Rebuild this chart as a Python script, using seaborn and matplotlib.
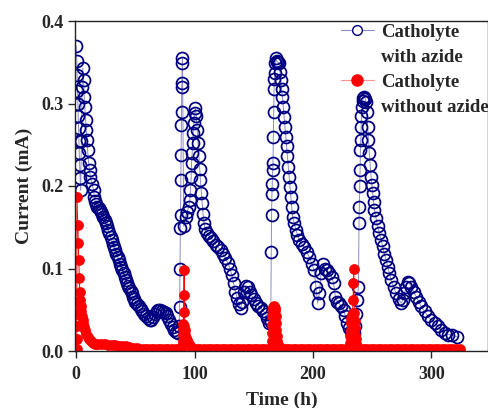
import numpy as np
import pandas as pd
import matplotlib
matplotlib.use("Agg")
import matplotlib.pyplot as plt
from matplotlib.lines import Line2D
import seaborn as sns

# ---- catholyte with azide (blue, open circles) ----
with_t1 = [0.0, 0.5, 0.8, 1.1, 1.4, 1.7, 2.0, 2.3, 2.6, 2.9, 3.3, 3.8, 4.4, 5.0, 5.6, 6.2, 6.8, 7.3, 8.0, 8.5,
           9.0, 9.6, 10.5, 11.3, 11.9, 13.3, 14.7, 15.3, 16, 17,
           18, 19, 20, 21, 22, 23, 24, 25, 26, 27, 28, 29, 30, 31, 32, 33, 34, 35, 36, 37, 38, 39, 40, 41,
           42, 43, 44, 45, 46, 47, 48, 49, 50,
           51.5, 53.0, 54.5, 56.0, 57.5, 59.0, 60.5, 62.0, 63.5, 65.0, 66.5, 68.0, 69.5, 71.0, 72.5, 74.0,
           75.5, 77.0, 78.5, 80.0, 81.5, 83.0, 84.5, 86.0]
with_v1 = [0.370, 0.352, 0.335, 0.315, 0.300, 0.285, 0.270, 0.255, 0.240, 0.225, 0.210, 0.195, 0.255, 0.320,
           0.343, 0.328, 0.308, 0.296, 0.280, 0.268, 0.256, 0.244, 0.228, 0.219, 0.211, 0.203, 0.195, 0.187,
           0.182, 0.178,
           0.175, 0.173, 0.171, 0.169, 0.166, 0.163, 0.159, 0.155, 0.151, 0.147, 0.143, 0.138, 0.134, 0.130,
           0.126, 0.122, 0.118, 0.114, 0.110, 0.106, 0.102, 0.098, 0.094, 0.090, 0.086, 0.082, 0.079, 0.076,
           0.073, 0.070, 0.066, 0.063, 0.060,
           0.057, 0.054, 0.051, 0.048, 0.045, 0.042, 0.040, 0.038, 0.038, 0.041, 0.045, 0.048, 0.050, 0.050,
           0.049, 0.047, 0.046, 0.042, 0.037, 0.033, 0.029, 0.026, 0.023, 0.022]

with_t2 = [87.0, 87.4, 87.7, 88.0, 88.2, 88.4, 88.6, 88.8, 89.0, 89.2, 89.4, 89.6, 89.8, 90.9, 92.4, 93.8,
           95.2, 96.0, 96.6, 97.2, 97.5, 98.0, 98.4, 98.9, 99.4, 100.0, 100.8,
           101.5, 102.3, 103.0, 103.7, 104.4, 105.0, 105.8, 106.5, 107.2, 108.0, 109.0, 110.5, 112.0, 114.0,
           116.0, 118.0, 120.0, 122.0, 124.0, 126.0, 128.0, 130.0, 131.5, 133.0, 134.5, 136.0, 137.5, 139.0,
           140.5, 142.0, 143.5, 145.0, 146.5, 148.0, 150.0, 152.0, 154.0, 156.0, 158.0, 160.0, 161.5, 163.0]
with_v2 = [0.030, 0.053, 0.100, 0.149, 0.165, 0.207, 0.238, 0.274, 0.290, 0.320, 0.325, 0.349, 0.355,
           0.151, 0.163, 0.169, 0.175, 0.183, 0.195, 0.211, 0.228, 0.240, 0.252, 0.264, 0.276, 0.288, 0.294,
           0.285, 0.268, 0.252, 0.236, 0.221, 0.207, 0.192, 0.179, 0.166, 0.155, 0.148, 0.143, 0.140, 0.137,
           0.133, 0.129, 0.126, 0.122, 0.118, 0.113, 0.107, 0.100, 0.092, 0.082, 0.072, 0.064, 0.057, 0.052,
           0.060, 0.072, 0.079, 0.077, 0.072, 0.068, 0.063, 0.058, 0.055, 0.052, 0.049, 0.045, 0.040, 0.034]

with_t3 = [164.4, 164.8, 165.1, 165.4, 165.7, 166.0, 166.3, 166.6, 166.9, 167.2, 167.5, 167.8, 168.2, 168.7,
           169.3, 170.0, 170.7, 171.5, 172.2, 172.9, 173.6, 174.3, 175.0, 175.7, 176.4, 177.1, 177.8, 178.5,
           179.2, 179.9, 180.6, 181.4, 182.1, 182.8, 184.2, 185.6, 187.0, 188.4, 190.5, 192.6, 194.7, 196.9,
           199.0, 201.1, 202.5, 204.0, 205.5, 207.0, 208.5, 210.0, 212.0, 214.0, 216.0, 217.5, 219.0, 220.5,
           222.0, 224.0, 226.0, 227.5, 229.0, 230.5, 232.0, 233.5]
with_v3 = [0.035, 0.120, 0.165, 0.190, 0.203, 0.219, 0.228, 0.260, 0.290, 0.318, 0.330, 0.337, 0.349, 0.355,
           0.352, 0.350, 0.350, 0.349, 0.338, 0.328, 0.318, 0.308, 0.296, 0.284, 0.272, 0.260, 0.248, 0.236,
           0.223, 0.211, 0.199, 0.187, 0.175, 0.163, 0.155, 0.147, 0.141, 0.135, 0.130, 0.126, 0.120, 0.114,
           0.106, 0.098, 0.078, 0.058, 0.070, 0.095, 0.105, 0.100, 0.098, 0.094, 0.090, 0.082, 0.066, 0.060,
           0.058, 0.054, 0.050, 0.042, 0.034, 0.028, 0.024, 0.022]

with_t4 = [234.5, 235.5, 236.5, 237.5, 238.5, 239.0, 239.3, 239.6, 239.9, 240.2, 240.5, 240.8, 241.1, 241.5,
           242.0, 242.7, 243.4, 244.2, 245.0, 245.7, 246.3, 247.0, 247.7, 248.5, 249.2, 249.9, 250.6, 251.3,
           252.0, 253.4, 254.8, 256.2, 257.6, 259.0, 260.4, 261.8, 263.3, 264.7, 266.1, 268.2, 270.3, 272.5,
           274.6, 276.0, 277.4, 278.8, 280.2, 281.6, 283.0, 285.2, 287.3, 289.4, 291.5, 294.4, 297.2, 300.0,
           302.8, 305.6, 308.5, 311.5, 314.5, 318.0, 322.0]
with_v4 = [0.022, 0.030, 0.045, 0.062, 0.078, 0.155, 0.175, 0.200, 0.219, 0.244, 0.256, 0.272, 0.285, 0.296,
           0.303, 0.307, 0.308, 0.306, 0.302, 0.290, 0.272, 0.256, 0.240, 0.225, 0.211, 0.201, 0.191, 0.181,
           0.171, 0.161, 0.151, 0.143, 0.135, 0.127, 0.118, 0.110, 0.102, 0.094, 0.086, 0.078, 0.070, 0.063,
           0.058, 0.062, 0.070, 0.078, 0.084, 0.082, 0.078, 0.072, 0.066, 0.060, 0.054, 0.048, 0.042, 0.038,
           0.034, 0.030, 0.025, 0.022, 0.020, 0.019, 0.017]

# ---- catholyte without azide (red, filled circles) ----
without_t1 = [0.40, 0.45, 0.50, 0.55, 0.60, 0.65, 1.4, 1.8, 2.2, 2.6, 3.0, 3.4, 3.8, 4.3, 4.8, 5.4, 6.0, 6.8,
              7.6, 8.6, 9.8, 11.0, 12.5, 14.0, 16.0, 18.0, 21.0, 24.0, 27.0, 30.0, 33.0, 36.0, 39.0, 42.0,
              45.0, 48.0,
              51, 54, 57, 60, 63, 66, 69, 72, 75, 78, 81, 84, 87]
without_v1 = [0.003, 0.015, 0.030, 0.045, 0.060, 0.187, 0.153, 0.131, 0.110, 0.088, 0.072, 0.062, 0.055, 0.048,
              0.042, 0.037, 0.033, 0.029, 0.025, 0.021, 0.017, 0.014, 0.012, 0.010, 0.009, 0.0085, 0.008, 0.008,
              0.0075, 0.007, 0.007, 0.0065, 0.006, 0.0055, 0.005, 0.004,
              0.0035, 0.003, 0.003, 0.003, 0.0025, 0.0025, 0.0025, 0.0025, 0.0025, 0.0025, 0.0025, 0.0025,
              0.0025]

without_t2 = [88.5, 89.5, 90.0, 90.2, 90.4, 90.6, 90.8, 91.0, 91.2, 91.5, 91.8, 92.2, 92.7, 93.3, 94.0, 95.0,
              96.0, 97.5, 99.0,
              102, 105, 108, 111, 114, 117, 120, 123, 126, 129, 132, 135, 138, 141, 144, 147, 150, 153, 156,
              159, 162]
without_v2 = [0.003, 0.006, 0.012, 0.020, 0.027, 0.033, 0.047, 0.068, 0.098, 0.030, 0.025, 0.020, 0.016, 0.013,
              0.010, 0.008, 0.006, 0.004, 0.003,
              0.0025, 0.0025, 0.0025, 0.0025, 0.0025, 0.0025, 0.0025, 0.0025, 0.0025, 0.0025, 0.0025, 0.0025,
              0.0025, 0.0025, 0.0025, 0.0025, 0.0025, 0.0025, 0.0025, 0.0025, 0.0025]

without_t3 = [165.0, 165.2, 165.4, 165.6, 165.8, 166.0, 166.5, 167.0, 167.5, 168.0, 168.4, 168.7, 168.9, 169.1,
              169.3, 169.6, 170.0, 171.0, 172.5, 174.5,
              177, 180, 183, 186, 189, 192, 195, 198, 201, 204, 207, 210, 213, 216, 219, 222, 225, 228]
without_v3 = [0.003, 0.012, 0.022, 0.032, 0.042, 0.050, 0.053, 0.054, 0.053, 0.052, 0.050, 0.042, 0.034, 0.026,
              0.018, 0.012, 0.008, 0.006, 0.004, 0.003,
              0.0025, 0.0025, 0.0025, 0.0025, 0.0025, 0.0025, 0.0025, 0.0025, 0.0025, 0.0025, 0.0025, 0.0025,
              0.0025, 0.0025, 0.0025, 0.0025, 0.0025, 0.0025]

without_t4 = [231.0, 231.3, 231.6, 231.9, 232.2, 232.5, 233.0, 233.5, 234.0, 234.3, 234.6, 235.0, 235.3, 235.6,
              235.9, 236.3, 236.8, 237.5, 238.5, 240.0,
              243, 246, 249, 252, 255, 258, 261, 264, 267, 270, 273, 276, 279, 282, 285, 288, 291, 294, 297,
              300, 303, 306, 309, 312, 315, 318, 321, 324]
without_v4 = [0.003, 0.010, 0.018, 0.026, 0.034, 0.040, 0.044, 0.046, 0.062, 0.082, 0.100, 0.046, 0.036, 0.028,
              0.020, 0.014, 0.009, 0.006, 0.004, 0.003,
              0.0025, 0.0025, 0.0025, 0.0025, 0.0025, 0.0025, 0.0025, 0.0025, 0.0025, 0.0025, 0.0025, 0.0025,
              0.0025, 0.0025, 0.0025, 0.0025, 0.0025, 0.0025, 0.0025, 0.0025, 0.0025, 0.0025, 0.0025, 0.0025,
              0.0025, 0.0025, 0.0025, 0.0025]

x_ticks = [0, 100, 200, 300]
y_ticks = [0.0, 0.1, 0.2, 0.3, 0.4]
labels = ["Catholyte", "with azide", "Catholyte", "without azide"]

with_df = pd.DataFrame({"t": with_t1 + with_t2 + with_t3 + with_t4,
                        "i": with_v1 + with_v2 + with_v3 + with_v4})
without_df = pd.DataFrame({"t": without_t1 + without_t2 + without_t3 + without_t4,
                           "i": without_v1 + without_v2 + without_v3 + without_v4})

sns.set_style("ticks")
plt.rcParams['font.family'] = ['Liberation Serif', 'DejaVu Serif']
plt.rcParams['font.weight'] = 'bold'

navy = "#000080"
pale_blue = "#8c8cc8"
red = "#ff0000"

fig = plt.figure(figsize=(4.89, 4.08), dpi=100)
ax = fig.add_axes([75 / 489, 57 / 408, 413 / 489, 330 / 408])

sns.lineplot(data=with_df, x="t", y="i", sort=False, estimator=None, ax=ax,
             color=pale_blue, lw=0.7, marker="o", markersize=8.6,
             markerfacecolor="none", markeredgecolor=navy, markeredgewidth=1.25)
sns.lineplot(data=without_df, x="t", y="i", sort=False, estimator=None, ax=ax,
             color=red, lw=0.7, marker="o", markersize=7.2,
             markerfacecolor=red, markeredgecolor=red, markeredgewidth=0.5)

ax.set_xlim(-1, 348)
ax.set_ylim(0, 0.4)
ax.set_xticks(x_ticks)
ax.set_yticks(y_ticks)
ax.set_yticklabels([f"{v:.1f}" for v in y_ticks])
ax.tick_params(direction="out", length=5, width=1, labelsize=13, pad=3)
ax.tick_params(axis="x", pad=6)
for lab in ax.get_xticklabels() + ax.get_yticklabels():
    lab.set_fontweight("bold")
for sp in ax.spines.values():
    sp.set_visible(True)
    sp.set_linewidth(1.0)
    sp.set_color("#222222")

ax.set_xlabel("Time (h)", fontsize=14, fontweight="bold", labelpad=6)
ax.set_ylabel("Current (mA)", fontsize=14, fontweight="bold", labelpad=6)

h_with = Line2D([], [], color=pale_blue, lw=0.8, marker="o", markersize=7,
                markerfacecolor="white", markeredgecolor=navy, markeredgewidth=1.0)
h_without = Line2D([], [], color="#ff9090", lw=0.8, marker="o", markersize=8,
                   markerfacecolor=red, markeredgecolor=red)
h_empty = Line2D([], [], linestyle="none")
ax.legend([h_with, h_empty, h_without, h_empty], labels,
          loc="upper right", bbox_to_anchor=(1.008, 1.0), frameon=False,
          prop={"family": "Liberation Serif", "weight": "bold", "size": 13.5},
          handlelength=1.75, handletextpad=0.38, labelspacing=0.42,
          borderaxespad=0.0, borderpad=0.15)

fig.savefig("out.png", dpi=100)
